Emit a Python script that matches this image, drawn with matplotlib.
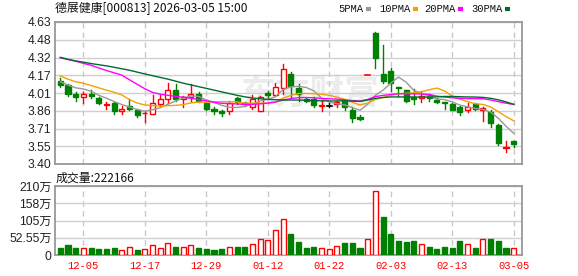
import matplotlib
matplotlib.use('Agg')
import matplotlib.pyplot as plt
from matplotlib.patches import Rectangle
from matplotlib.lines import Line2D

# ---------------- data ----------------
dates = ['12-02', '12-03', '12-04', '12-05', '12-08', '12-09', '12-10', '12-11', '12-12', '12-15',
         '12-16', '12-17', '12-18', '12-19', '12-22', '12-23', '12-24', '12-25', '12-26', '12-29',
         '12-30', '12-31', '01-05', '01-06', '01-07', '01-08', '01-09', '01-12', '01-13', '01-14',
         '01-15', '01-16', '01-19', '01-20', '01-21', '01-22', '01-23', '01-26', '01-27', '01-28',
         '01-29', '01-30', '02-02', '02-03', '02-04', '02-05', '02-06', '02-09', '02-10', '02-11',
         '02-12', '02-13', '02-24', '02-25', '02-26', '02-27', '03-02', '03-03', '03-04', '03-05']

opens = [4.119, 4.082, 4.007, 3.983, 4.010, 3.970, 3.915, 3.930, 3.862, 3.900,
         3.864, 3.840, 3.830, 3.920, 3.965, 4.040, 3.960, 3.982, 4.006, 3.928,
         3.874, 3.859, 3.859, 3.969, 3.930, 3.890, 3.859, 4.012, 3.998, 4.056,
         4.183, 4.058, 3.966, 3.960, 3.900, 3.906, 3.920, 3.945, 3.872, 3.808,
         4.170, 4.535, 4.177, 4.204, 4.065, 4.040, 3.978, 3.970, 3.998, 3.955,
         3.935, 3.917, 3.895, 3.870, 3.920, 3.868, 3.853, 3.738, 3.535, 3.600]
highs = [4.142, 4.090, 4.024, 4.020, 4.040, 3.980, 3.937, 3.940, 3.900, 3.960,
         3.880, 3.862, 4.000, 4.000, 4.100, 4.095, 3.990, 4.095, 4.020, 3.940,
         3.890, 3.870, 3.945, 3.980, 3.940, 3.995, 3.990, 4.035, 4.100, 4.265,
         4.200, 4.095, 3.975, 3.980, 3.955, 3.930, 3.950, 3.958, 3.895, 3.825,
         4.170, 4.540, 4.430, 4.234, 4.068, 4.045, 4.050, 4.035, 4.010, 3.970,
         3.940, 3.930, 3.900, 3.927, 3.925, 3.890, 3.865, 3.745, 3.595, 3.600]
lows = [4.070, 3.992, 3.943, 3.930, 3.970, 3.920, 3.877, 3.835, 3.830, 3.870,
        3.810, 3.766, 3.830, 3.905, 3.930, 3.945, 3.895, 3.938, 3.935, 3.870,
        3.830, 3.820, 3.835, 3.920, 3.900, 3.880, 3.855, 3.975, 3.985, 4.008,
        3.983, 3.950, 3.940, 3.890, 3.862, 3.890, 3.890, 3.870, 3.768, 3.777,
        4.170, 4.228, 4.100, 4.036, 3.990, 3.935, 3.920, 3.940, 3.945, 3.930,
        3.874, 3.865, 3.822, 3.852, 3.868, 3.775, 3.723, 3.565, 3.500, 3.543]
closes = [4.087, 4.009, 3.984, 4.007, 3.990, 3.930, 3.920, 3.857, 3.879, 3.880,
          3.822, 3.845, 3.926, 3.960, 4.038, 3.960, 3.980, 4.008, 3.948, 3.879,
          3.859, 3.844, 3.930, 3.940, 3.917, 3.960, 3.983, 3.998, 4.066, 4.220,
          4.072, 4.009, 3.948, 3.914, 3.910, 3.906, 3.935, 3.894, 3.797, 3.790,
          4.170, 4.321, 4.119, 4.100, 4.055, 3.950, 3.965, 3.990, 3.969, 3.940,
          3.925, 3.868, 3.850, 3.890, 3.874, 3.885, 3.753, 3.579, 3.545, 3.570]

ma5 = [4.113, 4.084, 4.060, 4.050, 4.030, 3.995, 3.970, 3.941, 3.915, 3.893,
       3.872, 3.857, 3.870, 3.887, 3.918, 3.945, 3.972, 3.989, 3.986, 3.955,
       3.935, 3.908, 3.892, 3.890, 3.898, 3.918, 3.946, 3.959, 3.984, 4.045,
       4.068, 4.073, 4.063, 4.033, 3.971, 3.937, 3.922, 3.912, 3.889, 3.865,
       3.918, 3.995, 4.040, 4.100, 4.153, 4.109, 4.038, 4.012, 3.986, 3.963,
       3.958, 3.938, 3.910, 3.895, 3.881, 3.873, 3.850, 3.796, 3.727, 3.666]
ma10 = [4.162, 4.135, 4.113, 4.099, 4.080, 4.060, 4.040, 4.022, 3.998, 3.958,
        3.928, 3.911, 3.906, 3.901, 3.905, 3.908, 3.914, 3.930, 3.936, 3.936,
        3.940, 3.940, 3.940, 3.938, 3.927, 3.927, 3.927, 3.926, 3.937, 3.971,
        3.993, 4.010, 4.011, 4.009, 4.005, 3.995, 3.980, 3.960, 3.935, 3.912,
        3.928, 3.959, 3.976, 3.994, 4.009, 4.013, 4.016, 4.026, 4.043, 4.058,
        4.033, 3.988, 3.961, 3.940, 3.922, 3.916, 3.894, 3.853, 3.811, 3.774]
ma20 = [4.320, 4.305, 4.290, 4.272, 4.255, 4.232, 4.210, 4.190, 4.170, 4.130,
        4.090, 4.052, 4.020, 4.005, 3.995, 3.986, 3.978, 3.970, 3.958, 3.947,
        3.934, 3.926, 3.923, 3.920, 3.916, 3.917, 3.921, 3.928, 3.937, 3.954,
        3.967, 3.975, 3.976, 3.974, 3.967, 3.965, 3.962, 3.957, 3.949, 3.945,
        3.960, 3.984, 3.994, 4.002, 4.009, 4.008, 4.007, 4.007, 4.002, 3.988,
        3.980, 3.973, 3.969, 3.967, 3.966, 3.965, 3.955, 3.940, 3.927, 3.916]
ma30 = [4.324, 4.307, 4.293, 4.282, 4.270, 4.260, 4.250, 4.238, 4.225, 4.212,
        4.196, 4.180, 4.165, 4.150, 4.135, 4.118, 4.100, 4.085, 4.070, 4.055,
        4.040, 4.025, 4.010, 3.995, 3.982, 3.972, 3.965, 3.960, 3.957, 3.954,
        3.954, 3.954, 3.952, 3.949, 3.947, 3.946, 3.946, 3.948, 3.945, 3.942,
        3.954, 3.969, 3.976, 3.981, 3.981, 3.981, 3.980, 3.980, 3.980, 3.982,
        3.985, 3.985, 3.983, 3.981, 3.980, 3.977, 3.969, 3.956, 3.938, 3.917]

# volume in 万 (10k)
volume = [22.3, 30.5, 21.8, 20.8, 21.3, 18.3, 18.3, 21.3, 14.7, 23.3,
          15.2, 17.8, 29.4, 20.8, 35.5, 24.4, 23.8, 29.4, 21.3, 18.3,
          15.2, 18.3, 23.8, 24.4, 24.4, 33.0, 48.2, 45.2, 75.1, 108.6,
          65.0, 39.6, 21.3, 24.4, 20.3, 17.3, 26.4, 36.5, 36.5, 21.3,
          47.7, 193.9, 115.7, 63.9, 42.6, 39.6, 42.6, 33.5, 24.4, 18.3,
          24.4, 21.3, 42.6, 33.5, 21.3, 47.7, 47.7, 42.6, 21.3, 22.2]
vol_up = [0, 0, 0, 1, 0, 0, 0, 0, 1, 1,
          0, 1, 1, 1, 1, 0, 1, 1, 0, 0,
          0, 0, 1, 0, 0, 1, 1, 1, 1, 1,
          0, 0, 0, 0, 1, 1, 1, 0, 0, 0,
          1, 1, 0, 0, 0, 0, 0, 1, 0, 0,
          0, 0, 0, 1, 0, 1, 0, 0, 0, 1]

price_tick_labels = ['3.40', '3.55', '3.71', '3.86', '4.01', '4.17', '4.32', '4.48', '4.63']
vol_tick_labels = ['0', '52.55万', '105万', '158万', '210万']
vol_max = 210.2
shown_dates = ['12-05', '12-17', '12-29', '01-12', '01-22', '02-03', '02-13', '03-05']
title_text = '德展健康[000813] 2026-03-05 15:00'
vol_title = '成交量:222166'
ma_names = ['5PMA', '10PMA', '20PMA', '30PMA']
ma_colors = ['#999999', '#f5a000', '#ff00ff', '#006b2e']

# ---------------- figure ----------------
W, H = 578, 276
fig = plt.figure(figsize=(W / 100, H / 100), dpi=100)
fig.patch.set_facecolor('white')

def fx(x):
    return x / W

def fy(y):
    return 1 - y / H

L, R = 55, 522
ax1 = fig.add_axes([fx(L), fy(164), (R - L) / W, 142 / H])
ax2 = fig.add_axes([fx(L), fy(255), (R - L) / W, 69 / H])

RED = '#ff0000'
GREEN = '#008000'
n = len(closes)
xs = list(range(n))
xlim = (-0.69, n + 0.08)
bw = 0.66

ymin, ymax = float(price_tick_labels[0]), float(price_tick_labels[-1])
pticks = [ymin + k * (ymax - ymin) / (len(price_tick_labels) - 1) for k in range(len(price_tick_labels))]
label_idx = [dates.index(d) for d in shown_dates]

for ax in (ax1, ax2):
    ax.set_xlim(*xlim)
    for s in ax.spines.values():
        s.set_color('#999999')
        s.set_linewidth(1.3)
    ax.tick_params(length=0, pad=2.5)
    ax.set_xticks(label_idx)
    ax.grid(axis='y', color='#d0d0d0', lw=1.0, ls='-', zorder=0)
    ax.grid(axis='x', color='#c8c8c8', lw=1.0, ls=(0, (4, 3)), zorder=0)
    ax.set_axisbelow(True)

# price panel
ax1.set_ylim(ymin, ymax)
ax1.set_yticks(pticks)
ax1.set_yticklabels(price_tick_labels, fontsize=8.7, family='Liberation Sans', color='#222222')
ax1.set_xticklabels([])

ax1.text(0.548, 0.50, '东方财富', transform=ax1.transAxes, ha='center', va='center',
         fontsize=25, fontweight='bold', color='#ececec', family=['Noto Sans CJK SC'], zorder=0.5)

for i in xs:
    o, h, l, c = opens[i], highs[i], lows[i], closes[i]
    if c > o:
        col = RED
    elif c < o:
        col = GREEN
    else:
        col = RED if h == l else '#000000'
    ax1.plot([i, i], [l, h], color=col, lw=1.0, zorder=3)
    if c > o:
        ax1.add_patch(Rectangle((i - bw / 2, o), bw, c - o, facecolor='white',
                                edgecolor=col, lw=1.0, zorder=4))
    elif c < o:
        ax1.add_patch(Rectangle((i - bw / 2, c), bw, o - c, facecolor=col,
                                edgecolor=col, lw=1.0, zorder=4))
    else:
        ax1.plot([i - bw / 2, i + bw / 2], [c, c], color=col, lw=1.2, zorder=4)

for vals, col in zip([ma5, ma10, ma20, ma30], ma_colors):
    ax1.plot(xs, vals, color=col, lw=1.0, zorder=5)

# volume panel
ax2.set_ylim(0, vol_max)
ax2.set_yticks([k * vol_max / 4 for k in range(5)])
ax2.set_yticklabels(vol_tick_labels, fontsize=8.7, family=['Liberation Sans', 'Noto Sans CJK SC'],
                    color='#222222')
ax2.set_xticklabels(shown_dates, fontsize=7.6, family='Liberation Mono', color=RED)
ax2.tick_params(axis='x', pad=4)
for i in xs:
    if vol_up[i]:
        ax2.bar(i, volume[i], width=bw, facecolor='white', edgecolor=RED, lw=1.0, zorder=3)
    else:
        ax2.bar(i, volume[i], width=bw, facecolor=GREEN, edgecolor=GREEN, lw=1.0, zorder=3)

# texts
fig.text(fx(55), fy(8.5), title_text, fontsize=8.6, va='center', ha='left',
         family=['Noto Sans CJK SC', 'DejaVu Sans'], color='#111111')
fig.text(fx(56), fy(178), vol_title, fontsize=8.6, va='center', ha='left',
         family=['Noto Sans CJK SC', 'DejaVu Sans'], color='#111111')

leg_fs = 7.6
char_w = 0.6 * leg_fs * 100 / 72
leg_x = [338.5, 379, 424.5, 471]
for name, col, x0 in zip(ma_names, ma_colors, leg_x):
    fig.text(fx(x0), fy(9), name, fontsize=leg_fs, va='center', ha='left',
             family='Liberation Mono', color='#111111')
    w = char_w * len(name)
    fig.add_artist(Line2D([fx(x0 + w + 2), fx(x0 + w + 7)], [fy(9), fy(9)],
                          transform=fig.transFigure, color=col, lw=3, solid_capstyle='butt'))

fig.savefig('out.png', dpi=100)
